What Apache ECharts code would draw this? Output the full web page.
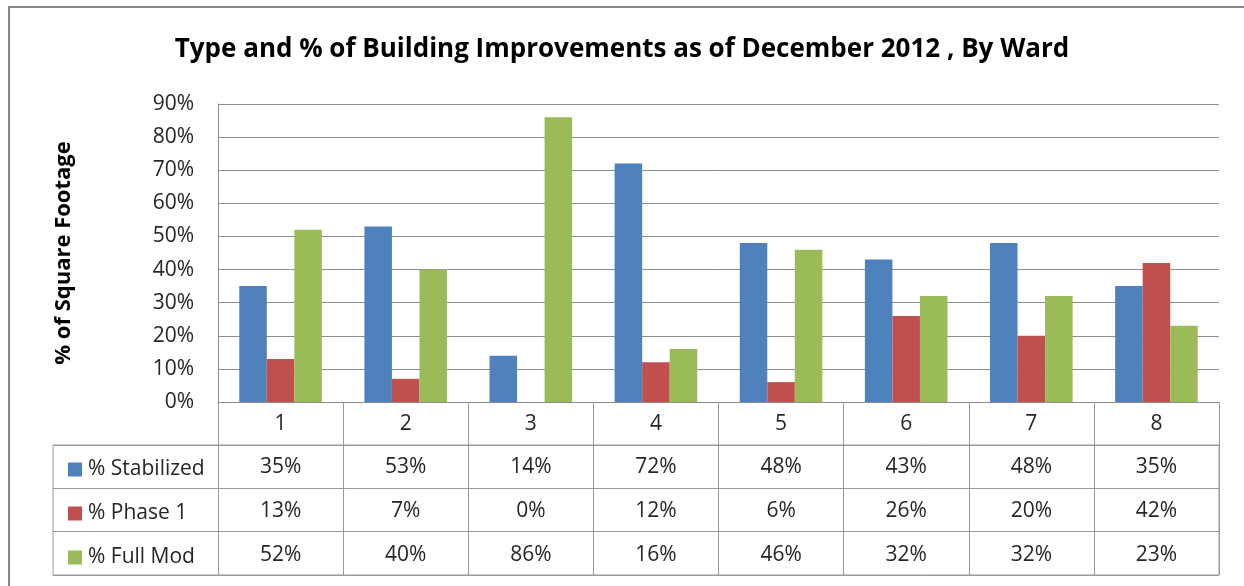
<!DOCTYPE html>
<html>
<head>
<meta charset="utf-8">
<script src="https://cdn.jsdelivr.net/npm/echarts@6/dist/echarts.min.js"></script>
<style>
  html, body { margin: 0; padding: 0; background: #fff; }
  #container { width: 1244px; height: 586px; }
</style>
</head>
<body>
<div id="container"></div>
<script>
// wards along the x axis
var wards = ['1', '2', '3', '4', '5', '6', '7', '8']
var seriesNames = ['% Stabilized', '% Phase 1', '% Full Mod']
var stabilized = [0.35, 0.53, 0.14, 0.72, 0.48, 0.43, 0.48, 0.35]
var phase1 = [0.13, 0.07, 0.00, 0.12, 0.06, 0.26, 0.20, 0.42]
var fullMod = [0.52, 0.40, 0.86, 0.16, 0.46, 0.32, 0.32, 0.23]
var colors = ['#4F81BD', '#C0504D', '#9BBB59']

var font = '"Open Sans", Lato, sans-serif'
var textColor = '#262626'
var lineColor = '#8c8c8c'
var fs = 21

var rows = [stabilized, phase1, fullMod]

function pct(v){
    return Math.round(v * 100) + '%'
}

var dom = document.getElementById('container')
var myChart = echarts.init(dom)

// plot grid on top, data table grid under it
var H = 586
var plotTop = 104, plotBottom = 184, tableTop = 445, tableBottom = 11
var rowH = 44
// category ticks run down through the whole table
var tickLen = (H - tableBottom) - (H - plotBottom)

var xAxes = [{
    type: 'category',
    gridIndex: 0,
    data: wards,
    axisLine: { lineStyle: { color: lineColor } },
    axisTick: { show: true, length: tickLen, lineStyle: { color: '#999' } },
    axisLabel: { margin: 22, verticalAlign: 'middle', fontSize: fs, color: textColor, fontFamily: font, interval: 0 }
}]
// one hidden axis per table row, labels read from the series arrays
for(let k = 0; k < rows.length; k++){
    let row = rows[k]
    xAxes.push({
        type: 'category',
        gridIndex: 0,
        position: 'bottom',
        data: wards,
        axisLine: { show: false },
        axisTick: { show: false },
        axisLabel: {
            interval: 0,
            margin: 65 + rowH * k,
            verticalAlign: 'middle',
            fontSize: fs,
            color: textColor,
            fontFamily: font,
            formatter: function(v, i){ return pct(row[i]) }
        }
    })
}
xAxes.push({ type: 'value', gridIndex: 1, show: false, min: 0, max: 1 })

var option = {
    animation: false,
    backgroundColor: '#fff',
    color: colors,
    title: {
        text: 'Type and % of Building Improvements as of December 2012 , By Ward',
        left: 'center',
        top: 32,
        textStyle: { fontSize: 26, fontWeight: 'bold', color: '#000', fontFamily: font }
    },
    legend: {
        orient: 'vertical',
        left: 63,
        top: 454,
        icon: 'rect',
        itemWidth: 14,
        itemHeight: 14,
        itemGap: 23,
        data: seriesNames,
        textStyle: { fontSize: fs, lineHeight: 21, color: textColor, fontFamily: font, padding: [0, 0, 0, 1] }
    },
    grid: [
        { left: 218, right: 25, top: plotTop, bottom: plotBottom },
        { left: 53, right: 25, top: tableTop, bottom: tableBottom, show: true, borderColor: '#999', borderWidth: 1 }
    ],
    xAxis: xAxes,
    yAxis: [{
        type: 'value',
        gridIndex: 0,
        min: 0,
        max: 0.9,
        interval: 0.1,
        name: '% of Square Footage',
        nameLocation: 'middle',
        nameGap: 143,
        nameRotate: 90,
        nameTextStyle: { fontSize: 22, fontWeight: 'bold', color: '#000', fontFamily: font },
        axisLine: { show: true, lineStyle: { color: lineColor } },
        axisTick: { show: false },
        axisLabel: { margin: 24, fontSize: fs, color: textColor, fontFamily: font, formatter: function(v){ return pct(v) } },
        splitLine: { lineStyle: { color: lineColor, width: 1 } }
    }, {
        type: 'category',
        gridIndex: 1,
        data: seriesNames,
        inverse: true,
        axisLine: { show: false },
        axisTick: { show: false },
        axisLabel: { show: false },
        splitLine: { show: true, lineStyle: { color: '#999' } }
    }],
    graphic: [{
        type: 'rect',
        shape: { x: 9, y: 7, width: 1400, height: 800 },
        style: { fill: null, stroke: '#888', lineWidth: 2 },
        silent: true
    }],
    series: [{
        name: seriesNames[0],
        type: 'bar',
        data: stabilized,
        barGap: 0,
        barCategoryGap: '34%'
    }, {
        name: seriesNames[1],
        type: 'bar',
        data: phase1
    }, {
        name: seriesNames[2],
        type: 'bar',
        data: fullMod
    }]
}

if (option && typeof option === 'object') {
    myChart.setOption(option, true)
}
</script>
</body>
</html>
